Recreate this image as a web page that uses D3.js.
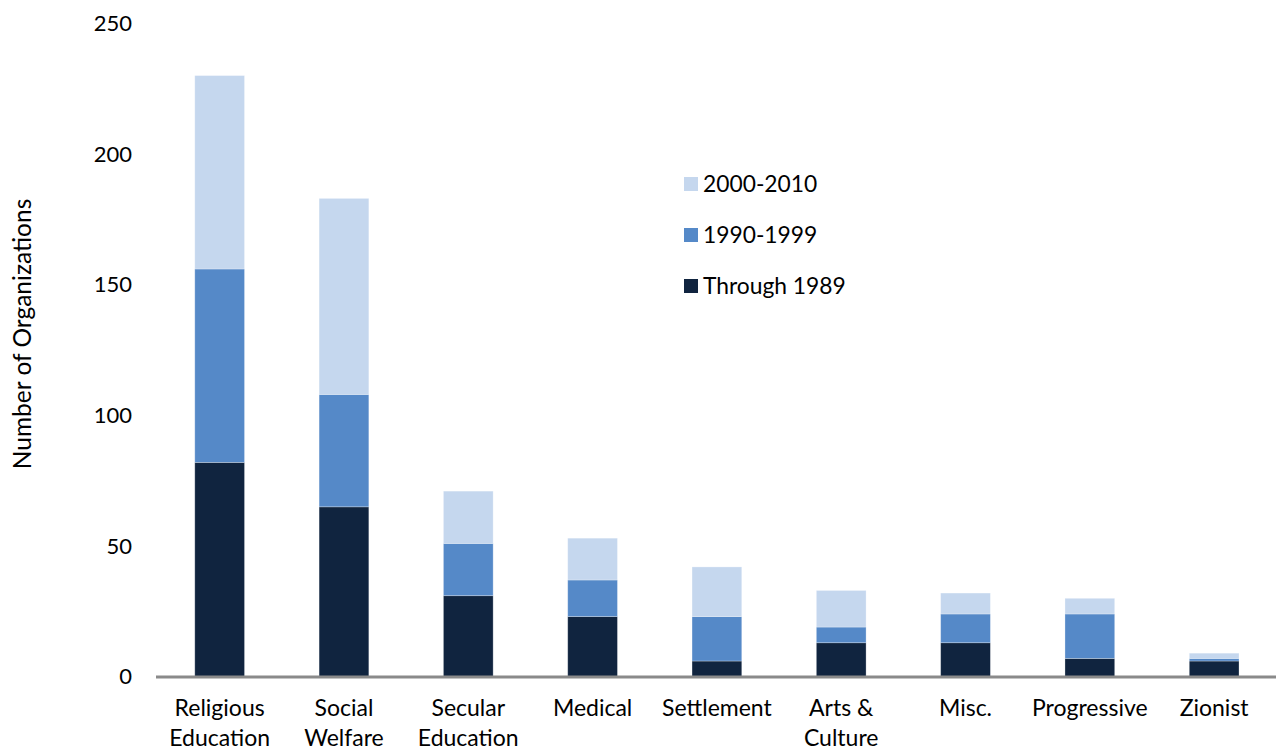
<!DOCTYPE html>
<html>
<head>
<meta charset="utf-8">
<script src="https://cdn.jsdelivr.net/npm/d3@7"></script>
<style>
  html, body { margin: 0; padding: 0; background: #fff; }
  svg { display: block; }
  text { font-family: Lato, "Open Sans", sans-serif; fill: #000; }
</style>
</head>
<body>
<svg id="chart" width="1276" height="751"></svg>
<script>
const categories = [
  ["Religious", "Education"],
  ["Social", "Welfare"],
  ["Secular", "Education"],
  ["Medical"],
  ["Settlement"],
  ["Arts &", "Culture"],
  ["Misc."],
  ["Progressive"],
  ["Zionist"]
];
const through1989 = [82, 65, 31, 23, 6, 13, 13, 7, 6];
const y1990_1999  = [74, 43, 20, 14, 17, 6, 11, 17, 1];
const y2000_2010  = [74, 75, 20, 16, 19, 14, 8, 6, 2];
const seriesNames = ["Through 1989", "1990-1999", "2000-2010"];
const seriesColors = ["#10243F", "#5589C8", "#C5D7EE"];
const yTicks = [0, 50, 100, 150, 200, 250];
const yTitle = "Number of Organizations";

const svg = d3.select("#chart");
const keys = categories.map((c, i) => "c" + i);
const table = keys.map((k, i) => ({
  key: k,
  "Through 1989": through1989[i],
  "1990-1999": y1990_1999[i],
  "2000-2010": y2000_2010[i]
}));

const x = d3.scaleBand().domain(keys).range([157.5, 1276.3]).paddingInner(0.6).paddingOuter(0.3);
const y = d3.scaleLinear().domain([0, 250]).range([676.7, 23.3]);
const color = d3.scaleOrdinal().domain(seriesNames).range(seriesColors);

const stacked = d3.stack().keys(seriesNames)(table);

svg.append("g").selectAll("g")
  .data(stacked).join("g")
  .attr("fill", d => color(d.key))
  .selectAll("rect")
  .data(d => d).join("rect")
  .attr("x", d => x(d.data.key))
  .attr("width", x.bandwidth())
  .attr("y", d => y(d[1]))
  .attr("height", d => y(d[0]) - y(d[1]))
  .attr("stroke", "#ffffff")
  .attr("stroke-opacity", 0.35)
  .attr("stroke-width", 0.8);

// x axis line
svg.append("line")
  .attr("x1", 156).attr("x2", 1276)
  .attr("y1", y(0) + 0.3).attr("y2", y(0) + 0.3)
  .attr("stroke", "#8a8a8a").attr("stroke-width", 3);

// y tick labels
const yAxis = d3.axisLeft(y).tickValues(yTicks).tickSize(0).tickPadding(0);
const yg = svg.append("g").attr("transform", "translate(132,0)").call(yAxis);
yg.select(".domain").remove();
yg.selectAll("text")
  .attr("font-family", "Lato, sans-serif")
  .attr("font-size", 22)
  .attr("fill", "#000");

// x labels
const xl = svg.append("g");
categories.forEach((lines, i) => {
  const cx = x(keys[i]) + x.bandwidth() / 2;
  const t = xl.append("text")
    .attr("text-anchor", "middle")
    .attr("font-size", 23)
    .attr("x", cx)
    .attr("y", 716);
  lines.forEach((ln, j) => {
    t.append("tspan").attr("x", cx).attr("dy", j === 0 ? 0 : 29.5).text(ln);
  });
});

// y title
svg.append("text")
  .attr("transform", "translate(31,334) rotate(-90)")
  .attr("text-anchor", "middle")
  .attr("font-size", 24.5)
  .text(yTitle);

// legend
const legendOrder = ["2000-2010", "1990-1999", "Through 1989"];
const lg = svg.append("g");
legendOrder.forEach((name, i) => {
  const cy = 184 + i * 51;
  lg.append("rect")
    .attr("x", 684).attr("y", cy - 7)
    .attr("width", 14).attr("height", 14)
    .attr("fill", color(name));
  lg.append("text")
    .attr("x", 703).attr("y", cy)
    .attr("dy", "0.36em")
    .attr("font-size", 22.8)
    .text(name);
});
</script>
</body>
</html>
